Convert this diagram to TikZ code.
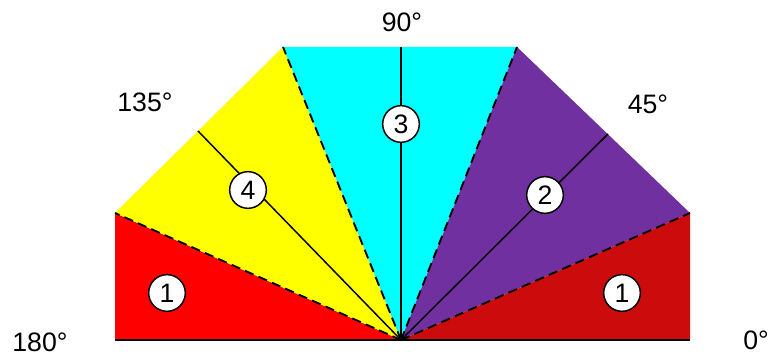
\documentclass[tikz,border=0pt]{standalone}
\usepackage{fontspec}
\setmainfont{Liberation Sans}
\usetikzlibrary{calc}
\definecolor{Fire}{HTML}{FF0000}
\definecolor{Sun}{HTML}{FFFF00}
\definecolor{Sky}{HTML}{00FFFF}
\definecolor{Plum}{HTML}{7030A0}
\definecolor{Brick}{HTML}{CC0C0C}
\tikzset{
  sector/.style={draw=none},
  ray/.style={line width=1.1pt,draw=black},
  split/.style={ray,line width=1.4pt,dash pattern=on 7pt off 4pt},
  zone/.style={circle,draw=black,line width=1.1pt,fill=white,minimum size=27.5pt,inner sep=0pt,font=\fontsize{20}{23}\selectfont},
  deg/.style={font=\fontsize{20}{23}\selectfont,inner sep=0pt}
}
\begin{document}
\begin{tikzpicture}[x=0.75pt,y=0.75pt]
        \useasboundingbox (0,0) rectangle (772,356);
        % corners of the fan
        \coordinate (o) at (401,16);
        \coordinate (a) at (115,16);
        \coordinate (b) at (115,143);
        \coordinate (c) at (283,309);
        \coordinate (d) at (517,309);
        \coordinate (e) at (690,143);
        \coordinate (f) at (690,16);
        \coordinate (t135) at (198,225);
        \coordinate (t90) at (401,309);
        \coordinate (t45) at (608,222);
        % sectors
        \fill[Fire] (a)--(b)--(o)--cycle;
        \fill[Sun] (b)--(c)--(o)--cycle;
        \fill[Sky] (c)--(d)--(o)--cycle;
        \fill[Plum] (d)--(e)--(o)--cycle;
        \fill[Brick] (e)--(f)--(o)--cycle;
        % borders and centre lines
        \draw[split] (o)--(b);
        \draw[split] (o)--(c);
        \draw[split] (o)--(d);
        \draw[split] (o)--(e);
        \draw[ray] (o)--(t135);
        \draw[ray] (o)--(t90);
        \draw[ray] (o)--(t45);
        \draw[ray] (a)--(f);
        % zone numbers
        \node[zone] (z1l) at (167,63) {1};
        \node[zone] (z4) at (248,166) {4};
        \node[zone] (z3) at (401,232) {3};
        \node[zone] (z2) at (545,161) {2};
        \node[zone] (z1r) at (622,63) {1};
        % angles
        \node[deg] (d180) at (40,14) {180°};
        \node[deg] (d135) at (145,254) {135°};
        \node[deg] (d90) at (402,334) {90°};
        \node[deg] (d45) at (648,252) {45°};
        \node[deg] (d0) at (756,16) {0°};
      \end{tikzpicture}
\end{document}
